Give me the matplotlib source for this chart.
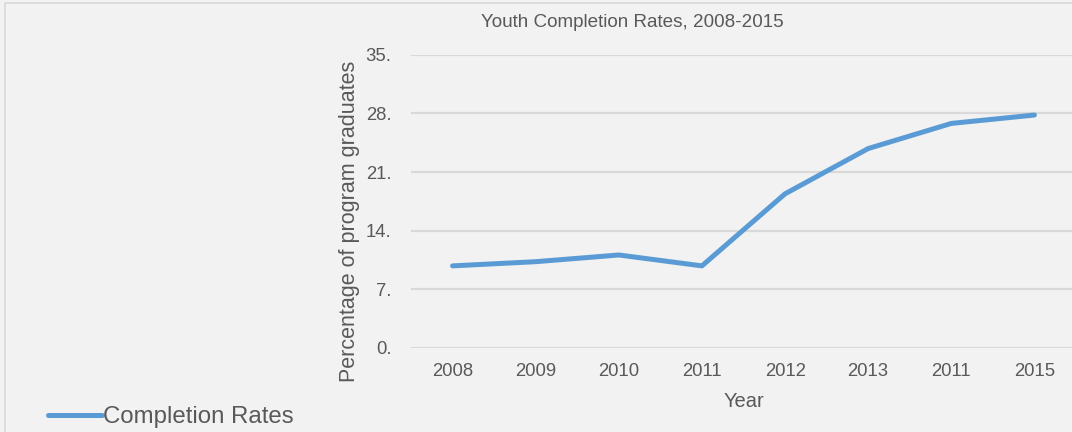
import matplotlib
matplotlib.use("Agg")
import matplotlib.pyplot as plt
from matplotlib.patches import Rectangle

years = ["2008", "2009", "2010", "2011", "2012", "2013", "2011", "2015"]
completion_rates = [9.8, 10.3, 11.1, 9.8, 18.4, 23.8, 26.8, 27.8]
y_ticks = [0, 7, 14, 21, 28, 35]
y_tick_labels = ["0.", "7.", "14.", "21.", "28.", "35."]

plt.rcParams['font.family'] = ['Liberation Sans', 'DejaVu Sans']
TXT = "#595959"
W, H = 1072, 432
fig = plt.figure(figsize=(W / 100, H / 100), dpi=100)
fig.patch.set_facecolor("#f2f2f2")
fig.patches.append(Rectangle((5 / W, -0.01), 1.2, 1 - 3 / H + 0.01, transform=fig.transFigure,
                             fill=False, edgecolor="#d9d9d9", linewidth=1.2))

left, right = 411 / W, 1076 / W
top, bottom = 1 - 54.7 / H, 1 - 348 / H
ax = fig.add_axes([left, bottom, right - left, top - bottom])
ax.set_facecolor("#f2f2f2")
x = list(range(len(years)))
line, = ax.plot(x, completion_rates, color="#5b9bd5", linewidth=3.6,
                solid_capstyle="round", solid_joinstyle="round", label="Completion Rates",
                zorder=3)
ax.set_xlim(-0.5, len(years) - 0.5)
ax.set_ylim(0, 35)
ax.set_yticks(y_ticks)
ax.set_yticklabels(y_tick_labels)
ax.set_xticks(x)
ax.set_xticklabels(years)
ax.tick_params(axis='both', length=0, colors=TXT, labelsize=13.3)
ax.tick_params(axis='y', pad=14)
ax.tick_params(axis='x', pad=11)
for s in ax.spines.values():
    s.set_visible(False)
ax.grid(axis='y', color="#d9d9d9", linewidth=1.6)
ax.set_axisbelow(True)
ax.set_ylabel("Percentage of program graduates", color=TXT, fontsize=15.5)
ax.yaxis.set_label_coords(-0.092, 0.431)
ax.yaxis.label.set_va("center")
ax.set_xlabel("Year", color=TXT, fontsize=14.5)
ax.xaxis.set_label_coords(0.5, -0.15)

fig.text(632 / W, 1 - 22.5 / H, "Youth Completion Rates, 2008-2015", ha="center", va="center",
         color=TXT, fontsize=13.6)

fig.legend(handles=[line], loc="center left", bbox_to_anchor=(48 / W, 1 - 417 / H),
           frameon=False, fontsize=17.3, handlelength=2.25,
           handletextpad=0.05, labelcolor=TXT, borderaxespad=0, borderpad=0)

fig.savefig("out.png", dpi=100, facecolor=fig.get_facecolor())
